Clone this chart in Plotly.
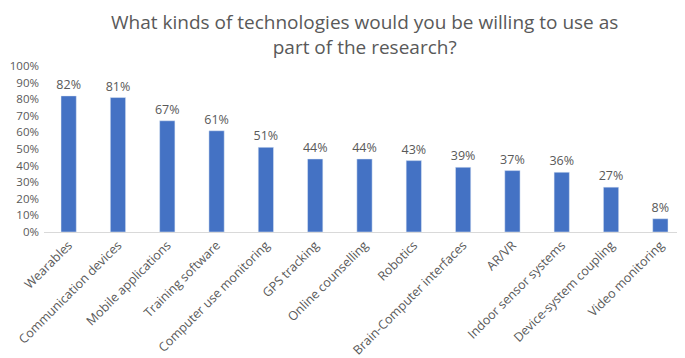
import plotly.graph_objects as go

categories = ["Wearables", "Communication devices", "Mobile applications", "Training software",
              "Computer use monitoring", "GPS tracking", "Online counselling", "Robotics",
              "Brain-Computer interfaces", "AR/VR", "Indoor sensor systems",
              "Device-system coupling", "Video monitoring"]
values = [0.82, 0.81, 0.67, 0.61, 0.51, 0.44, 0.44, 0.43, 0.39, 0.37, 0.36, 0.27, 0.08]
labels = [f"{round(v*100)}%" for v in values]
title_text = "What kinds of technologies would you be willing to use as<br>part of the research?"

FONT = "Open Sans"
GREY = "#595959"

# page has an 8px default body margin; figure is sized to the visible area
W, H = 677, 350
ML, MT, MB, MR = 36, 58, 126, 0
PH = H - MT - MB

fig = go.Figure(go.Bar(
    x=categories, y=values, text=labels, textposition="outside",
    textfont=dict(family=FONT, size=12.5, color=GREY), constraintext="none",
    marker_color="#4472C4", cliponaxis=False, width=0.31,
))

fig.update_layout(
    width=W, height=H,
    margin=dict(l=ML, r=MR, t=MT, b=MB, autoexpand=False),
    paper_bgcolor="white", plot_bgcolor="white",
    annotations=[dict(
        text=title_text, xref="paper", yref="paper", x=0.5, xanchor="center",
        y=1 + MT / PH, yanchor="top", showarrow=False, borderpad=0,
        font=dict(family=FONT, size=19, color=GREY))],
    showlegend=False,
    xaxis=dict(tickangle=-45, tickfont=dict(family=FONT, size=12.5, color=GREY),
               showline=True, linecolor="#d9d9d9", linewidth=1, ticks="", automargin=False),
    yaxis=dict(range=[0, 1], dtick=0.1, tickformat=".0%", showgrid=False, automargin=False,
               zeroline=False, ticklabelstandoff=4,
               tickfont=dict(family=FONT, size=11.5, color=GREY)),
)

fig.write_html("out.html")
